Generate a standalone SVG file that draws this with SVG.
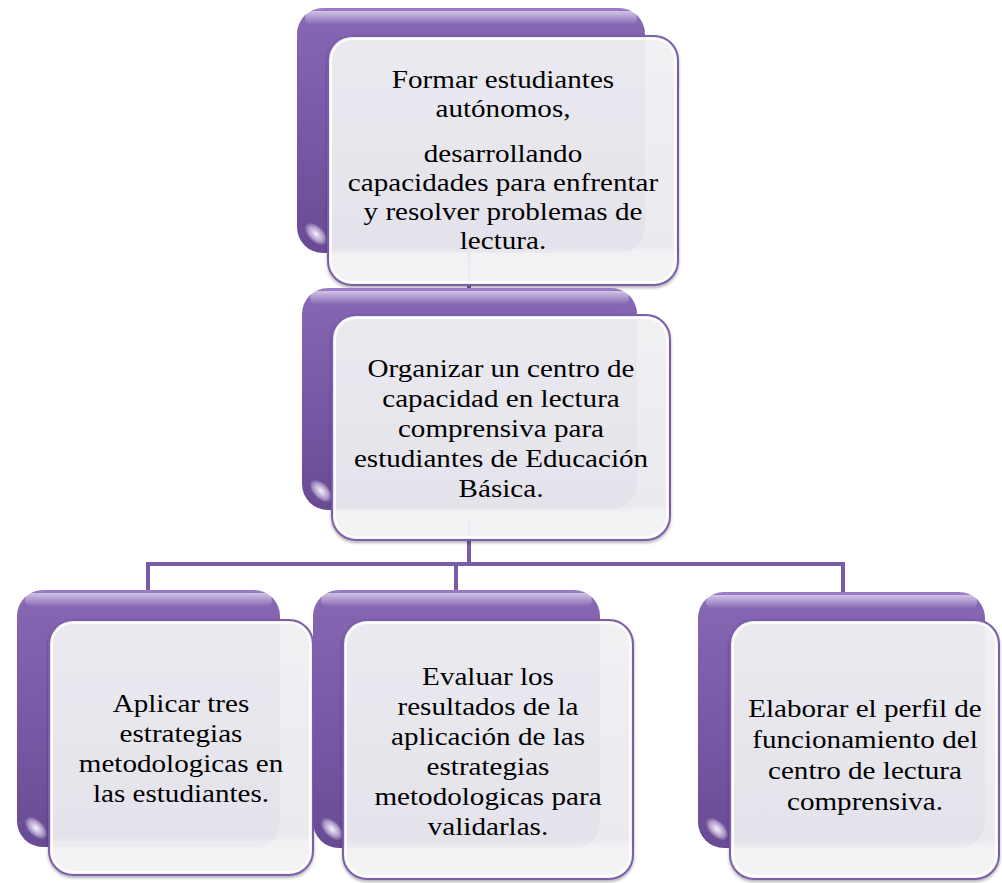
<svg xmlns="http://www.w3.org/2000/svg" width="1002" height="883" viewBox="0 0 1002 883">
<defs>
<linearGradient id="pg" x1="0" y1="0" x2="0" y2="1">
<stop offset="0" stop-color="#9a7dc6"/>
<stop offset="0.06" stop-color="#8566b3"/>
<stop offset="0.5" stop-color="#7859a6"/>
<stop offset="1" stop-color="#694b94"/>
</linearGradient>
<linearGradient id="hl" x1="0" y1="0" x2="0" y2="1">
<stop offset="0" stop-color="#ffffff" stop-opacity="0.55"/>
<stop offset="1" stop-color="#ffffff" stop-opacity="0"/>
</linearGradient>
<linearGradient id="wg" x1="0" y1="0" x2="0" y2="1">
<stop offset="0" stop-color="#f2f2f5"/>
<stop offset="0.85" stop-color="#ebebf0"/>
<stop offset="0.87" stop-color="#f3f3f5"/>
<stop offset="1" stop-color="#f5f5f7"/>
</linearGradient>
<radialGradient id="gl" cx="0.5" cy="0.5" r="0.5">
<stop offset="0" stop-color="#ffffff" stop-opacity="0.95"/>
<stop offset="0.6" stop-color="#e8dcf5" stop-opacity="0.6"/>
<stop offset="1" stop-color="#ffffff" stop-opacity="0"/>
</radialGradient>
<filter id="sh" x="-5%" y="-5%" width="110%" height="112%">
<feDropShadow dx="0" dy="2" stdDeviation="1.5" flood-color="#000" flood-opacity="0.3"/>
</filter>
</defs>
<style>
.back{fill:url(#pg);}
.hi{fill:url(#hl);}
.front{fill:url(#wg);fill-opacity:0.94;stroke:#7c5fa8;stroke-width:2;}
.inner{fill:none;stroke:#ffffff;stroke-width:2;stroke-opacity:0.9;}
.gloss{fill:url(#gl);}
.conn{fill:none;stroke:#7a5ca6;stroke-width:4;}
.t{font-family:'Liberation Serif','Times New Roman',serif;font-size:26px;fill:#000;text-anchor:middle;}
</style>

<g id="connectors">
<path class="conn" d="M469 250 V 300"/>
<path class="conn" d="M469 520 V 564"/>
<path class="conn" d="M148 592 V 564 H 843 V 592"/>
<path class="conn" d="M456 564 V 592"/>
</g>

<g id="node-top">
<rect class="back" x="297" y="8" width="348" height="245" rx="26"/>
<rect class="hi" x="305" y="11" width="332" height="14" rx="7"/>
<ellipse class="gloss" cx="316" cy="234" rx="14" ry="8" transform="rotate(45 316 234)"/>
<rect class="front" x="328" y="36" width="350" height="249" rx="24" filter="url(#sh)"/>
<rect class="inner" x="331" y="39" width="344" height="243" rx="21"/>
<g class="t">
<text transform="matrix(1.12 0 0 1 503 88)">Formar estudiantes</text>
<text transform="matrix(1.12 0 0 1 503 117)">autónomos,</text>
<text transform="matrix(1.12 0 0 1 503 162)">desarrollando</text>
<text transform="matrix(1.12 0 0 1 503 191)">capacidades para enfrentar</text>
<text transform="matrix(1.12 0 0 1 503 220)">y resolver problemas de</text>
<text transform="matrix(1.12 0 0 1 503 249)">lectura.</text>
</g>
</g>

<g id="node-middle">
<rect class="back" x="302" y="288" width="335" height="222" rx="26"/>
<rect class="hi" x="310" y="291" width="319" height="14" rx="7"/>
<ellipse class="gloss" cx="321" cy="491" rx="14" ry="8" transform="rotate(45 321 491)"/>
<rect class="front" x="332" y="315" width="338" height="225" rx="24" filter="url(#sh)"/>
<rect class="inner" x="335" y="318" width="332" height="219" rx="21"/>
<g class="t">
<text transform="matrix(1.12 0 0 1 501 377)">Organizar un centro de</text>
<text transform="matrix(1.12 0 0 1 501 407)">capacidad en lectura</text>
<text transform="matrix(1.12 0 0 1 501 437)">comprensiva para</text>
<text transform="matrix(1.12 0 0 1 501 467)">estudiantes de Educación</text>
<text transform="matrix(1.12 0 0 1 501 497)">Básica.</text>
</g>
</g>

<g id="node-left">
<rect class="back" x="17" y="590" width="263" height="257" rx="26"/>
<rect class="hi" x="25" y="593" width="247" height="14" rx="7"/>
<ellipse class="gloss" cx="36" cy="828" rx="14" ry="8" transform="rotate(45 36 828)"/>
<rect class="front" x="49" y="620" width="264" height="255" rx="24" filter="url(#sh)"/>
<rect class="inner" x="52" y="623" width="258" height="249" rx="21"/>
<g class="t">
<text transform="matrix(1.12 0 0 1 181 712)">Aplicar tres</text>
<text transform="matrix(1.12 0 0 1 181 742)">estrategias</text>
<text transform="matrix(1.12 0 0 1 181 772)">metodologicas en</text>
<text transform="matrix(1.12 0 0 1 181 802)">las estudiantes.</text>
</g>
</g>

<g id="node-center">
<rect class="back" x="313" y="590" width="287" height="258" rx="26"/>
<rect class="hi" x="321" y="593" width="271" height="14" rx="7"/>
<ellipse class="gloss" cx="332" cy="829" rx="14" ry="8" transform="rotate(45 332 829)"/>
<rect class="front" x="343" y="620" width="290" height="259" rx="24" filter="url(#sh)"/>
<rect class="inner" x="346" y="623" width="284" height="253" rx="21"/>
<g class="t">
<text transform="matrix(1.12 0 0 1 488 685)">Evaluar los</text>
<text transform="matrix(1.12 0 0 1 488 715)">resultados de la</text>
<text transform="matrix(1.12 0 0 1 488 745)">aplicación de las</text>
<text transform="matrix(1.12 0 0 1 488 775)">estrategias</text>
<text transform="matrix(1.12 0 0 1 488 805)">metodologicas para</text>
<text transform="matrix(1.12 0 0 1 488 835)">validarlas.</text>
</g>
</g>

<g id="node-right">
<rect class="back" x="698" y="592" width="287" height="256" rx="26"/>
<rect class="hi" x="706" y="595" width="271" height="14" rx="7"/>
<ellipse class="gloss" cx="717" cy="829" rx="14" ry="8" transform="rotate(45 717 829)"/>
<rect class="front" x="730" y="620" width="269" height="259" rx="24" filter="url(#sh)"/>
<rect class="inner" x="733" y="623" width="263" height="253" rx="21"/>
<g class="t">
<text transform="matrix(1.12 0 0 1 865 717)">Elaborar el perfil de</text>
<text transform="matrix(1.12 0 0 1 865 748)">funcionamiento del</text>
<text transform="matrix(1.12 0 0 1 865 779)">centro de lectura</text>
<text transform="matrix(1.12 0 0 1 865 810)">comprensiva.</text>
</g>
</g>
</svg>
